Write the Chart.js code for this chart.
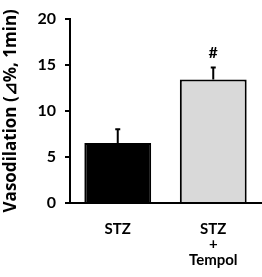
<!DOCTYPE html>
<html>
<head>
<meta charset="utf-8">
<script src="https://cdn.jsdelivr.net/npm/chart.js@4"></script>
<style>
html,body{margin:0;padding:0;background:#fff;}
#wrap{width:262px;height:277px;}
</style>
</head>
<body>
<div id="wrap"><canvas id="c" width="262" height="277"></canvas></div>
<script>
const categories = ["STZ", ["STZ", "+", "Tempol"]];
const means = [6.5, 13.4];
const errors = [1.5, 1.3];
const sigLabels = ["", "#"];
const yTicks = [0, 5, 10, 15, 20];
const barColors = ["#000000", "#d9d9d9"];

const FONT = "Lato, 'Open Sans', sans-serif";
const TITLE_FONT = "'Open Sans', Lato, sans-serif";

const errorBarPlugin = {
  id: 'errorBars',
  afterDatasetsDraw(chart) {
    const ctx = chart.ctx;
    const meta = chart.getDatasetMeta(0);
    const y = chart.scales.y;
    ctx.save();
    ctx.strokeStyle = '#000';
    ctx.lineWidth = 2;
    meta.data.forEach((bar, i) => {
      const x = bar.x;
      const top = y.getPixelForValue(means[i] + errors[i]);
      const base = y.getPixelForValue(means[i]);
      ctx.beginPath();
      ctx.moveTo(x, base);
      ctx.lineTo(x, top);
      ctx.moveTo(x - 2.5, top);
      ctx.lineTo(x + 2.5, top);
      ctx.stroke();
      if (sigLabels[i]) {
        ctx.fillStyle = '#000';
        ctx.font = "bold 16px " + FONT;
        ctx.textAlign = 'center';
        ctx.textBaseline = 'middle';
        ctx.fillText(sigLabels[i], x, top - 15);
      }
    });
    ctx.restore();
  }
};

new Chart(document.getElementById('c'), {
  type: 'bar',
  data: {
    labels: categories,
    datasets: [{
      data: means,
      backgroundColor: barColors,
      borderColor: '#000',
      borderWidth: 2,
      barPercentage: 0.7,
      categoryPercentage: 1.0
    }]
  },
  options: {
    responsive: false,
    animation: false,
    devicePixelRatio: 1,
    layout: { padding: { top: 9, right: 1, left: 0, bottom: 0 } },
    plugins: { legend: { display: false }, tooltip: { enabled: false } },
    scales: {
      x: {
        grid: { display: true, drawOnChartArea: false, drawTicks: false },
        border: { display: true, color: '#000', width: 2 },
        ticks: {
          color: '#000',
          padding: 18,
          maxRotation: 0,
          font: { family: FONT, weight: 'bold', size: 15, lineHeight: '15.5px' }
        },
        afterFit(scale) { scale.height = 74; }
      },
      y: {
        min: 0, max: 20,
        afterBuildTicks(scale) { scale.ticks = yTicks.map(v => ({ value: v })); },
        grid: { display: true, drawOnChartArea: false, drawTicks: true, tickLength: 5, color: '#000', lineWidth: 2 },
        border: { display: true, color: '#000', width: 2 },
        ticks: {
          color: '#000',
          padding: 9,
          font: { family: FONT, weight: 'bold', size: 16 }
        },
        title: {
          display: true,
          text: 'Vasodilation (⊿%, 1min)',
          color: '#000',
          padding: { top: 0, bottom: 0 },
          font: { family: TITLE_FONT, weight: 'bold', size: 17, lineHeight: 1.3 }
        },
        afterFit(scale) { scale.width = 70; }
      }
    }
  },
  plugins: [errorBarPlugin]
});
</script>
</body>
</html>
